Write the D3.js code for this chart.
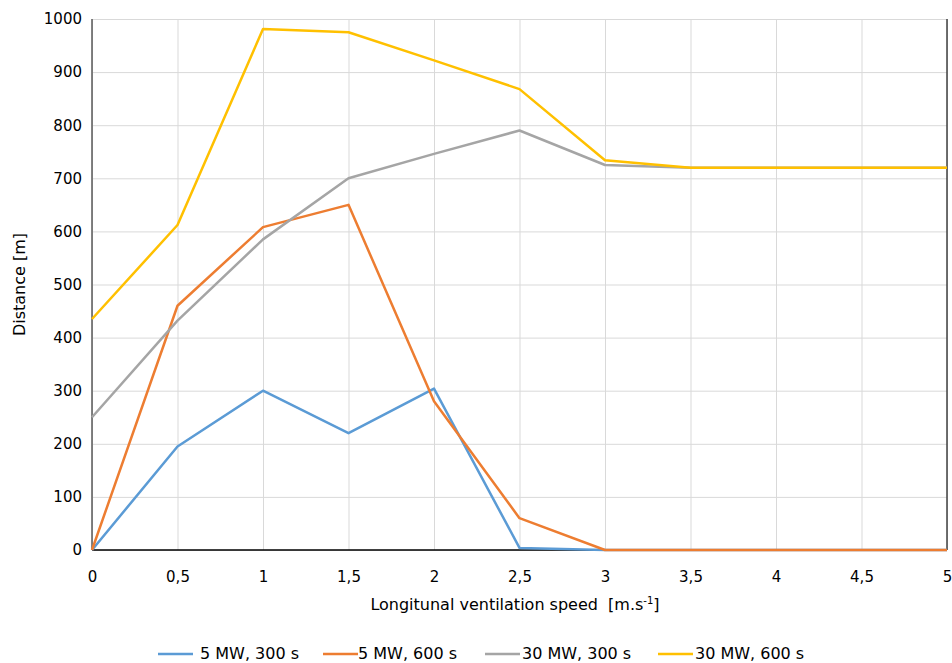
<!DOCTYPE html>
<meta charset="utf-8">
<style>
body { margin: 0; background: #fff; }
svg text { font-family: "DejaVu Sans", sans-serif; fill: #000; }
.grid line { stroke: #d9d9d9; stroke-width: 1; }
.grid path { display: none; }
.axis path, .axis line { display: none; }
.series { fill: none; stroke-width: 2.5; stroke-linejoin: round; }
</style>
<body>
<svg width="952" height="663"></svg>
<script src="https://cdn.jsdelivr.net/npm/d3@7"></script>
<script>

var speeds = [0, 0.5, 1, 1.5, 2, 2.5, 3, 3.5, 4, 4.5, 5];
var seriesNames = ["5 MW, 300 s", "5 MW, 600 s", "30 MW, 300 s", "30 MW, 600 s"];
var mw5s300 = [0, 195, 300, 220, 304, 4, 0, 0, 0, 0, 0];
var mw5s600 = [0, 460, 608, 650, 280, 60, 0, 0, 0, 0, 0];
var mw30s300 = [250, 432, 585, 700, 746, 790, 725, 720, 720, 720, 720];
var mw30s600 = [435, 612, 981, 975, 922, 868, 734, 720, 720, 720, 720];
var colors = ["#5b9bd5", "#ed7d31", "#a5a5a5", "#ffc000"];
var yTicks = [0, 100, 200, 300, 400, 500, 600, 700, 800, 900, 1000];

var svg = d3.select("svg"),
    margin = {top: 19, right: 5, bottom: 113, left: 92},
    width = +svg.attr("width") - margin.left - margin.right,
    height = +svg.attr("height") - margin.top - margin.bottom;

var x = d3.scaleLinear().domain([0, 5]).range([0, width]),
    y = d3.scaleLinear().domain([0, 1000]).range([height, 0]);

var g = svg.append("g")
    .attr("transform", "translate(" + margin.left + "," + margin.top + ")");

// gridlines
g.append("g")
    .attr("class", "grid")
    .call(d3.axisLeft(y).tickValues(yTicks).tickSize(-width).tickFormat(""));
g.append("g")
    .attr("class", "grid")
    .attr("transform", "translate(0," + height + ")")
    .call(d3.axisBottom(x).tickValues(speeds).tickSize(-height).tickFormat(""));

// axis lines
g.append("line").attr("x1", 0).attr("x2", 0).attr("y1", 0).attr("y2", height)
    .attr("stroke", "#595959").attr("stroke-width", 1.5);
g.append("line").attr("x1", width).attr("x2", width).attr("y1", 0).attr("y2", height)
    .attr("stroke", "#404040").attr("stroke-width", 1.5);
g.append("line").attr("x1", 0).attr("x2", width).attr("y1", height).attr("y2", height)
    .attr("stroke", "#000").attr("stroke-width", 1.5);

var fmt = function(d) { return String(d).replace(".", ","); };

g.append("g")
    .attr("class", "axis")
    .call(d3.axisLeft(y).tickValues(yTicks).tickSize(0).tickPadding(10).tickFormat(fmt))
    .selectAll("text").style("font-size", "15px");

g.append("g")
    .attr("class", "axis")
    .attr("transform", "translate(0," + height + ")")
    .call(d3.axisBottom(x).tickValues(speeds).tickSize(0).tickPadding(21).tickFormat(fmt))
    .selectAll("text").style("font-size", "15px");

// axis titles
svg.append("text")
    .attr("transform", "translate(25," + (margin.top + height / 2) + ") rotate(-90)")
    .attr("text-anchor", "middle")
    .style("font-size", "16px")
    .text("Distance [m]");

var xt = svg.append("text")
    .attr("x", 515)
    .attr("y", 610)
    .attr("text-anchor", "middle")
    .style("font-size", "16px");
xt.append("tspan").text("Longitunal ventilation speed\u00a0\u00a0[m.s");
xt.append("tspan").attr("dy", -6).style("font-size", "10px").text("-1");
xt.append("tspan").attr("dy", 6).text("]");

// series
var allSeries = [mw5s300, mw5s600, mw30s300, mw30s600];
var line = d3.line()
    .x(function(d, i) { return x(speeds[i]); })
    .y(function(d) { return y(d); });

g.selectAll(".series")
    .data(allSeries)
    .enter().append("path")
      .attr("class", "series")
      .attr("stroke", function(d, i) { return colors[i]; })
      .attr("d", line);

// legend
var legendX = [158, 323, 485, 658],
    legendTextX = [200, 358, 522, 695];
var legend = svg.selectAll(".legend")
    .data(seriesNames)
    .enter().append("g")
      .attr("class", "legend");

legend.append("line")
    .attr("x1", function(d, i) { return legendX[i]; })
    .attr("x2", function(d, i) { return legendX[i] + 35; })
    .attr("y1", 654).attr("y2", 654)
    .attr("stroke", function(d, i) { return colors[i]; })
    .attr("stroke-width", 2.5);

legend.append("text")
    .attr("x", function(d, i) { return legendTextX[i]; })
    .attr("y", 659)
    .style("font-size", "16px")
    .text(function(d) { return d; });

</script>
</body>
